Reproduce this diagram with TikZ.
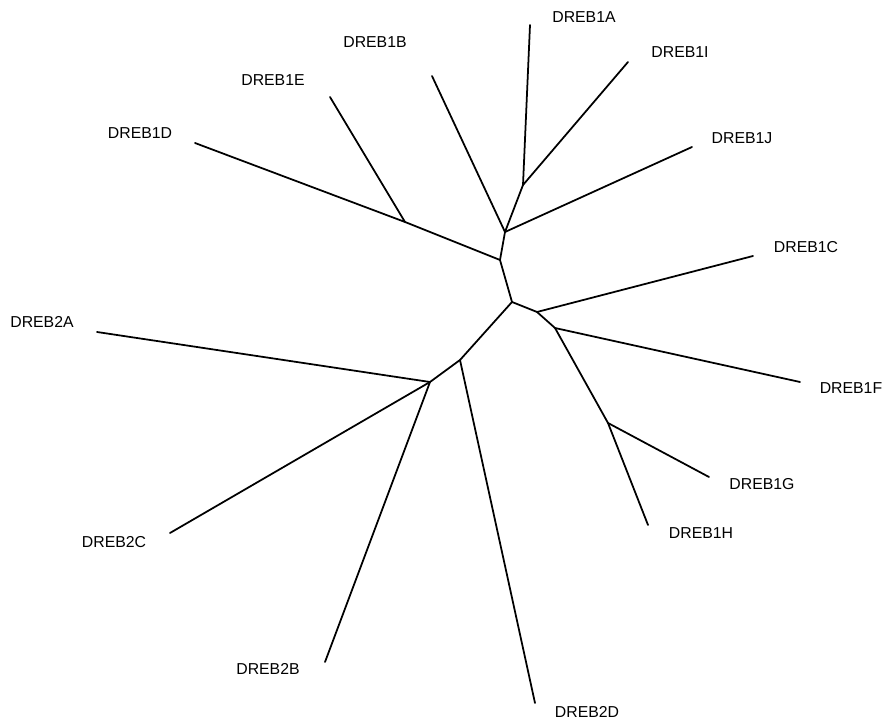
\documentclass[tikz,border=0pt]{standalone}
\usepackage{fontspec}
\setmainfont{Liberation Sans}
\begin{document}
\begin{tikzpicture}[x=0.02cm,y=-0.02cm,
  branch/.style={draw=black,line width=1pt,line join=round,line cap=round},
  leaflabel/.style={font=\fontsize{9}{10}\selectfont,inner sep=0pt,anchor=center}]
\useasboundingbox (0,0) rectangle (886,722);
% internal nodes
\coordinate (n1) at (523,185);
\coordinate (n2) at (505,232);
\coordinate (n3) at (500,260);
\coordinate (n4) at (405,222);
\coordinate (n5) at (512,302);
\coordinate (n6) at (537,312);
\coordinate (n8) at (555,328);
\coordinate (n9) at (608,423);
\coordinate (n7) at (460,360);
\coordinate (n10) at (430,382);
% leaf ends
\coordinate (e1A) at (530,25);
\coordinate (e1I) at (628,62);
\coordinate (e1J) at (692,147);
\coordinate (e1B) at (432,76);
\coordinate (e1E) at (330,97);
\coordinate (e1D) at (195,143);
\coordinate (e1C) at (753,256);
\coordinate (e1F) at (800,382);
\coordinate (e1G) at (709,477);
\coordinate (e1H) at (648,525);
\coordinate (e2A) at (97,332);
\coordinate (e2C) at (170,533);
\coordinate (e2B) at (325,662);
\coordinate (e2D) at (535,703);
% labels
\node[leaflabel] (l1A) at (584,17) {DREB1A};
\node[leaflabel] (l1I) at (680,52) {DREB1I};
\node[leaflabel] (l1B) at (375,42) {DREB1B};
\node[leaflabel] (l1E) at (273,80) {DREB1E};
\node[leaflabel] (l1D) at (140,133) {DREB1D};
\node[leaflabel] (l1J) at (742,138) {DREB1J};
\node[leaflabel] (l1C) at (806,247) {DREB1C};
\node[leaflabel] (l1F) at (851,388) {DREB1F};
\node[leaflabel] (l1G) at (762,484) {DREB1G};
\node[leaflabel] (l1H) at (701,533) {DREB1H};
\node[leaflabel] (l2A) at (42,322) {DREB2A};
\node[leaflabel] (l2C) at (114,542) {DREB2C};
\node[leaflabel] (l2B) at (268,669) {DREB2B};
\node[leaflabel] (l2D) at (587,712) {DREB2D};
% branches
\draw[branch] (e1A) -- (n1) -- (n2);
\draw[branch] (e1I) -- (n1);
\draw[branch] (e1B) -- (n2);
\draw[branch] (e1J) -- (n2);
\draw[branch] (n2) -- (n3);
\draw[branch] (e1D) -- (n4) -- (n3);
\draw[branch] (e1E) -- (n4);
\draw[branch] (n3) -- (n5);
\draw[branch] (n5) -- (n6) -- (e1C);
\draw[branch] (n6) -- (n8) -- (e1F);
\draw[branch] (n8) -- (n9) -- (e1G);
\draw[branch] (n9) -- (e1H);
\draw[branch] (n5) -- (n7) -- (e2D);
\draw[branch] (n7) -- (n10);
\draw[branch] (e2A) -- (n10);
\draw[branch] (e2C) -- (n10);
\draw[branch] (e2B) -- (n10);
\end{tikzpicture}
\end{document}
